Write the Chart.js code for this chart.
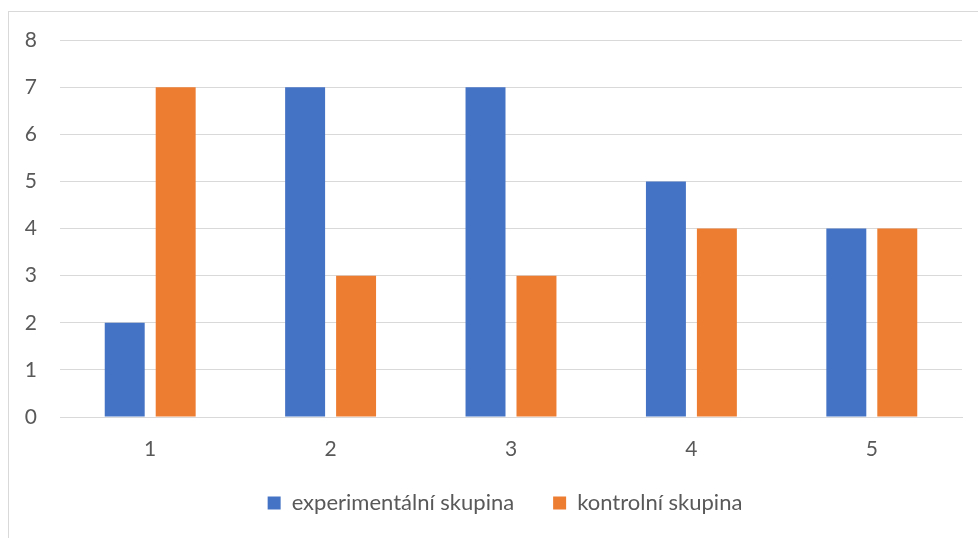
<!DOCTYPE html>
<html>
<head>
<meta charset="utf-8">
<script src="https://cdn.jsdelivr.net/npm/chart.js@4.4.1/dist/chart.umd.min.js"></script>
<style>
  html, body { margin: 0; padding: 0; background: #fff; overflow: hidden; }
  #wrap { position: relative; width: 978px; height: 538px; }
  #frame { position: absolute; left: 8px; top: 11px; width: 1000px; height: 600px; border: 1px solid #d9d9d9; box-sizing: border-box; }
  canvas { position: absolute; left: 0; top: 0; }
</style>
</head>
<body>
<div id="wrap">
  <div id="frame"></div>
  <canvas id="graf" width="978" height="538"></canvas>
</div>
<script>
const kategorie = ["1", "2", "3", "4", "5"];
const experimentalni = [2, 7, 7, 5, 4];
const kontrolni = [7, 3, 3, 4, 4];
const yMin = 0, yMax = 8, yKrok = 1;

const pismo = "Lato, 'Open Sans', sans-serif";
const seda = "#595959";

// posune legendu nahoru/doprava, at sedi s predlohou
const posunLegendy = {
  id: "posunLegendy",
  afterLayout(chart) {
    const l = chart.legend;
    l.top -= 24; l.bottom -= 24;
    l.left += 24; l.right += 24;
  }
};

const ctx = document.getElementById("graf").getContext("2d");
const graf = new Chart(ctx, {
  type: "bar",
  data: {
    labels: kategorie,
    datasets: [
      { label: "experimentální skupina", data: experimentalni, backgroundColor: "#4472C4", categoryPercentage: 0.565, barPercentage: 0.784 },
      { label: "kontrolní skupina", data: kontrolni, backgroundColor: "#ED7D31", categoryPercentage: 0.565, barPercentage: 0.784 }
    ]
  },
  plugins: [posunLegendy],
  options: {
    responsive: false,
    animation: false,
    layout: { padding: { top: 40, right: 16, bottom: 0, left: 0 } },
    scales: {
      x: {
        grid: { display: false, drawTicks: false },
        border: { display: true, color: "#d9d9d9", width: 1 },
        ticks: { color: seda, font: { family: pismo, size: 21 }, padding: 20 },
        afterFit: s => { s.height = 60; }
      },
      y: {
        min: yMin, max: yMax,
        grid: { color: "#d9d9d9", lineWidth: 1, drawTicks: false },
        border: { display: false },
        ticks: { stepSize: yKrok, color: seda, font: { family: pismo, size: 21 }, padding: 23 },
        afterFit: s => { s.width = 60; }
      }
    },
    plugins: {
      legend: {
        position: "bottom",
        maxHeight: 61,
        labels: { color: seda, font: { family: pismo, size: 22 }, boxWidth: 13, boxHeight: 13, padding: 39 }
      },
      tooltip: { enabled: false }
    }
  }
});
</script>
</body>
</html>
